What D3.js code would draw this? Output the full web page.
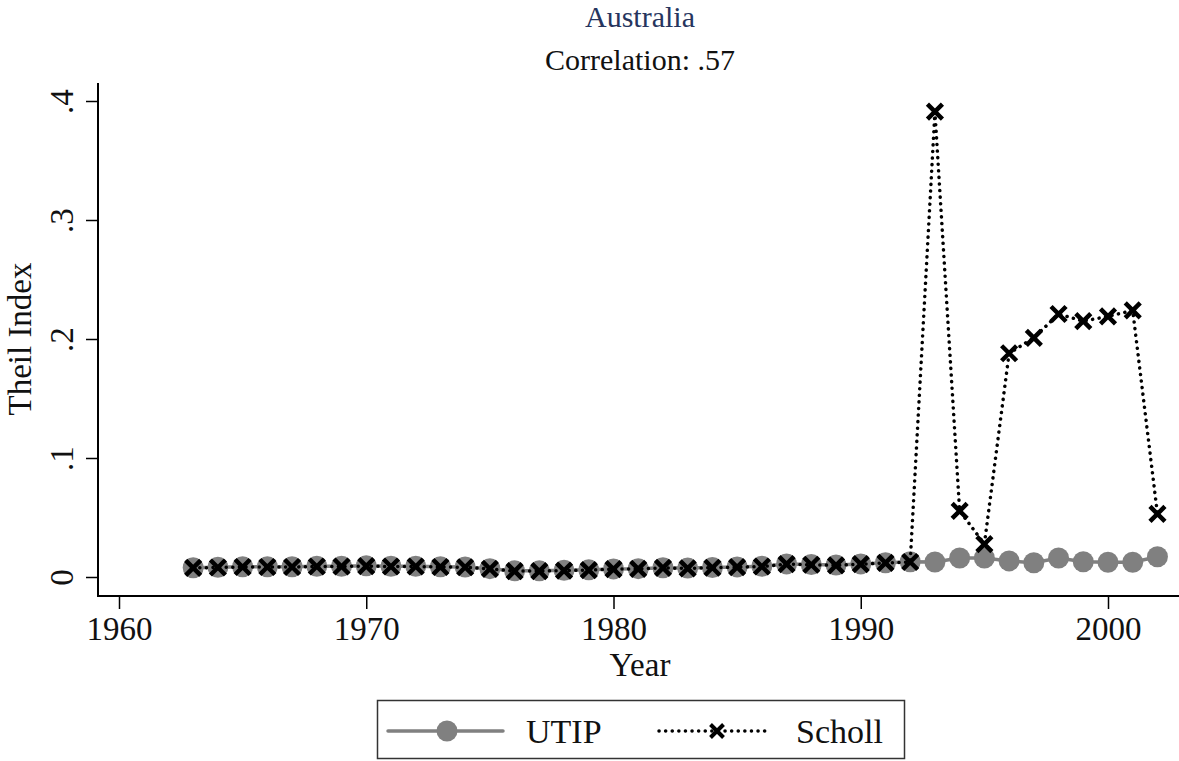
<!DOCTYPE html>
<html>
<head>
<meta charset="utf-8">
<script src="https://cdn.jsdelivr.net/npm/d3@7"></script>
<style>
  body { margin: 0; background: #fff; }
  svg { display: block; font-family: "Liberation Serif", "DejaVu Serif", serif; }
</style>
</head>
<body>
<div id="chart"></div>
<script>
const years = d3.range(1963, 2003);
const utip = [
  0.0078, 0.0082, 0.0086, 0.0086, 0.0086, 0.0090, 0.0090, 0.0094, 0.0090, 0.0090,
  0.0086, 0.0084, 0.0070, 0.0052, 0.0052, 0.0056, 0.0060, 0.0068, 0.0070, 0.0078,
  0.0075, 0.0080, 0.0085, 0.0090, 0.0110, 0.0105, 0.0100, 0.0110, 0.0120, 0.0128,
  0.0126, 0.0160, 0.0160, 0.0135, 0.0120, 0.0160, 0.0128, 0.0124, 0.0124, 0.0170
];
const scholl = [
  0.0076, 0.0080, 0.0084, 0.0084, 0.0084, 0.0088, 0.0088, 0.0092, 0.0088, 0.0088,
  0.0084, 0.0082, 0.0068, 0.0050, 0.0050, 0.0054, 0.0058, 0.0066, 0.0068, 0.0076,
  0.0073, 0.0078, 0.0083, 0.0088, 0.0108, 0.0103, 0.0098, 0.0108, 0.0118, 0.0126,
  0.391, 0.0555, 0.0277, 0.188, 0.201, 0.221, 0.215, 0.219, 0.224, 0.053
];
const xTicks = [1960, 1970, 1980, 1990, 2000];
const yTicks = [0, 0.1, 0.2, 0.3, 0.4];
const legendLabels = ["UTIP", "Scholl"];

const width = 1179, height = 761;
const svg = d3.select("#chart").append("svg")
  .attr("width", width)
  .attr("height", height);

const x = d3.scaleLinear().domain([1960, 2000]).range([119, 1108]);
const y = d3.scaleLinear().domain([0, 0.4]).range([577, 101]);

// titles
svg.append("text")
  .attr("x", 640).attr("y", 27)
  .attr("text-anchor", "middle")
  .attr("font-size", 30)
  .attr("fill", "#26355e")
  .text("Australia");
svg.append("text")
  .attr("x", 640).attr("y", 70)
  .attr("text-anchor", "middle")
  .attr("font-size", 30)
  .attr("fill", "#111")
  .text("Correlation: .57");

// axes
const xAxis = d3.axisBottom(x).tickValues(xTicks).tickFormat(d3.format("d")).tickSize(13).tickPadding(8);
const gx = svg.append("g").attr("transform", "translate(0,596)").call(xAxis);
gx.select(".domain").remove();
gx.selectAll(".tick line").attr("stroke", "#000").attr("stroke-width", 1.5);
gx.selectAll(".tick text").attr("font-size", 33).attr("fill", "#111")
  .attr("font-family", "Liberation Serif, serif");

const yAxis = d3.axisLeft(y).tickValues(yTicks).tickSize(12)
  .tickFormat(d => d === 0 ? "0" : d3.format(".1f")(d).replace(/^0/, ""));
const gy = svg.append("g").attr("transform", "translate(98,0)").call(yAxis);
gy.select(".domain").remove();
gy.selectAll(".tick line").attr("stroke", "#000").attr("stroke-width", 1.5);
gy.selectAll(".tick text")
  .attr("font-size", 33).attr("fill", "#111")
  .attr("font-family", "Liberation Serif, serif")
  .attr("text-anchor", "middle")
  .attr("dy", 0)
  .attr("transform", "translate(-25,0) rotate(-90)")
  .attr("x", 0).attr("y", 0);

svg.append("line").attr("x1", 98).attr("x2", 98).attr("y1", 83).attr("y2", 596)
  .attr("stroke", "#000").attr("stroke-width", 2);
svg.append("line").attr("x1", 97).attr("x2", width).attr("y1", 596).attr("y2", 596)
  .attr("stroke", "#000").attr("stroke-width", 2);

svg.append("text")
  .attr("x", 640).attr("y", 676)
  .attr("text-anchor", "middle")
  .attr("font-size", 33).attr("fill", "#111")
  .text("Year");
svg.append("text")
  .attr("transform", "translate(31,339) rotate(-90)")
  .attr("text-anchor", "middle")
  .attr("font-size", 33).attr("fill", "#111")
  .text("Theil Index");

// series
const utipData = years.map((yr, i) => ({ year: yr, v: utip[i] }));
const schollData = years.map((yr, i) => ({ year: yr, v: scholl[i] }));
const line = d3.line().x(d => x(d.year)).y(d => y(d.v));

const grey = "#808080";
svg.append("path").datum(utipData)
  .attr("fill", "none").attr("stroke", grey).attr("stroke-width", 3.5)
  .attr("d", line);
svg.selectAll("circle.utip").data(utipData).enter().append("circle")
  .attr("class", "utip")
  .attr("cx", d => x(d.year)).attr("cy", d => y(d.v)).attr("r", 10.5)
  .attr("fill", grey);

svg.append("path").datum(schollData)
  .attr("fill", "none").attr("stroke", "#000").attr("stroke-width", 3.5)
  .attr("stroke-linecap", "round").attr("stroke-dasharray", "0.1 6.5")
  .attr("d", line);

const cross = s => `M${-s},${-s}L${s},${s}M${-s},${s}L${s},${-s}`;
svg.selectAll("path.scholl").data(schollData).enter().append("path")
  .attr("class", "scholl")
  .attr("transform", d => `translate(${x(d.year)},${y(d.v)})`)
  .attr("d", cross(7.5))
  .attr("stroke", "#000").attr("stroke-width", 4.5).attr("fill", "none");

// legend
const lg = svg.append("g");
lg.append("rect").attr("x", 377.5).attr("y", 700.5).attr("width", 527).attr("height", 58)
  .attr("fill", "#fff").attr("stroke", "#333").attr("stroke-width", 1.5);
lg.append("line").attr("x1", 388).attr("x2", 503).attr("y1", 731).attr("y2", 731)
  .attr("stroke", grey).attr("stroke-width", 3.5).attr("stroke-linecap", "round");
lg.append("circle").attr("cx", 447).attr("cy", 731).attr("r", 10.5).attr("fill", grey);
lg.append("text").attr("x", 526).attr("y", 743).attr("font-size", 34).attr("fill", "#111")
  .text(legendLabels[0]);
lg.append("line").attr("x1", 659).attr("x2", 766).attr("y1", 731).attr("y2", 731)
  .attr("stroke", "#000").attr("stroke-width", 3.5)
  .attr("stroke-linecap", "round").attr("stroke-dasharray", "0.1 6.5");
lg.append("path").attr("transform", "translate(717,731)").attr("d", cross(6.5))
  .attr("stroke", "#000").attr("stroke-width", 4).attr("fill", "none");
lg.append("text").attr("x", 796).attr("y", 743).attr("font-size", 34).attr("fill", "#111")
  .text(legendLabels[1]);
</script>
</body>
</html>
